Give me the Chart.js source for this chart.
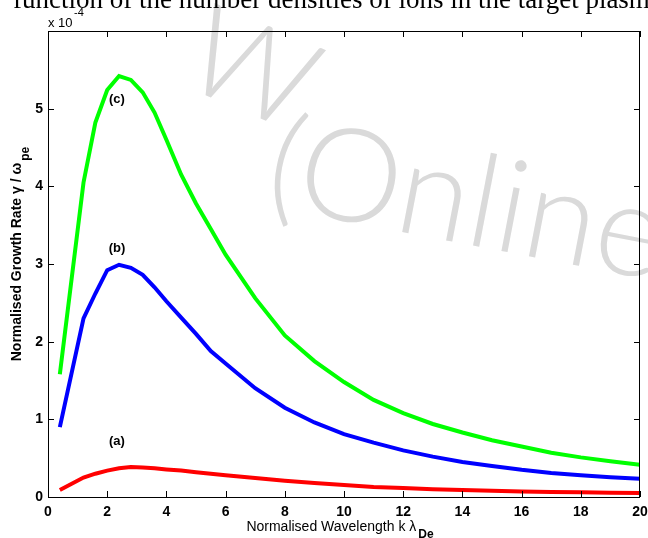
<!DOCTYPE html>
<html>
<head>
<meta charset="utf-8">
<script src="https://cdn.jsdelivr.net/npm/chart.js@4.4.1/dist/chart.umd.min.js"></script>
<style>
  body { margin: 0; background: #fff; }
  canvas { display: block; }
</style>
</head>
<body>
<canvas id="growthChart" width="648" height="538"></canvas>
<script>
// normalised wavelength k*lambda_De (shared by all three curves)
const kLambda = [0.4, 1.2, 1.6, 2.0, 2.4, 2.8, 3.2, 3.6, 4.0, 4.5, 5.0, 5.5, 6, 7, 8, 9, 10, 11, 12, 13, 14, 15, 16, 17, 18, 19, 20];
// growth rate gamma/omega_pe in units of 1e-4
const curveA = [0.09, 0.25, 0.30, 0.34, 0.37, 0.385, 0.38, 0.37, 0.355, 0.34, 0.32, 0.30, 0.28, 0.245, 0.21, 0.18, 0.155, 0.13, 0.115, 0.10, 0.09, 0.08, 0.07, 0.065, 0.06, 0.055, 0.05];
const curveB = [0.90, 2.30, 2.62, 2.92, 2.99, 2.95, 2.86, 2.70, 2.52, 2.31, 2.10, 1.88, 1.72, 1.40, 1.15, 0.96, 0.81, 0.70, 0.60, 0.52, 0.45, 0.40, 0.35, 0.31, 0.28, 0.255, 0.235];
const curveC = [1.58, 4.05, 4.82, 5.24, 5.42, 5.37, 5.21, 4.95, 4.60, 4.15, 3.78, 3.45, 3.12, 2.56, 2.08, 1.75, 1.48, 1.25, 1.08, 0.94, 0.83, 0.73, 0.65, 0.57, 0.51, 0.46, 0.415];
const curveLabels = ['(a)', '(b)', '(c)'];
const labelAt = [[2.33, 0.71], [2.33, 3.2], [2.33, 5.12]];
const xTicks = [0, 2, 4, 6, 8, 10, 12, 14, 16, 18, 20];
const yTicks = [0, 1, 2, 3, 4, 5];

const SANS = '"Liberation Sans", Arial, Helvetica, sans-serif';

function toPoints(ys) {
    return kLambda.map((x, i) => ({ x: x, y: ys[i] }));
}

// frame, inward ticks, axis titles, annotations, exponent, page text
const decorPlugin = {
    id: 'decor',
    beforeDatasetsDraw(chart) {
        const ctx = chart.ctx;
        // faint watermark of the scanned page
        ctx.save();
        ctx.fillStyle = '#dadada';
        ctx.font = '300 125px Lato, sans-serif';
        ctx.translate(205, 95);
        ctx.rotate(0.4);
        ctx.fillText('W', -30, 0);
        ctx.restore();
        ctx.save();
        ctx.fillStyle = '#dadada';
        ctx.font = '300 130px Lato, sans-serif';
        ctx.translate(262, 205);
        ctx.rotate(0.19);
        ctx.fillText('(Online', 0, 0);
        ctx.restore();
    },
    afterDraw(chart) {
        const ctx = chart.ctx;
        const a = chart.chartArea;
        const xs = chart.scales.x, ys = chart.scales.y;
        const tl = 6;
        ctx.save();
        ctx.strokeStyle = '#000';
        ctx.lineWidth = 1;
        ctx.strokeRect(a.left + 0.5, a.top + 0.5, a.right - a.left - 1, a.bottom - a.top);
        ctx.beginPath();
        xTicks.forEach(v => {
            const px = Math.round(xs.getPixelForValue(v)) + 0.5;
            ctx.moveTo(px, a.bottom); ctx.lineTo(px, a.bottom - tl);
            ctx.moveTo(px, a.top); ctx.lineTo(px, a.top + tl);
        });
        yTicks.forEach(v => {
            const py = Math.round(ys.getPixelForValue(v)) + 0.5;
            ctx.moveTo(a.left, py); ctx.lineTo(a.left + tl, py);
            ctx.moveTo(a.right, py); ctx.lineTo(a.right - tl, py);
        });
        ctx.stroke();

        ctx.fillStyle = '#000';
        // curve labels
        ctx.font = 'bold 13px ' + SANS;
        ctx.textAlign = 'center';
        ctx.textBaseline = 'middle';
        curveLabels.forEach((t, i) => {
            ctx.fillText(t, xs.getPixelForValue(labelAt[i][0]), ys.getPixelForValue(labelAt[i][1]));
        });

        // exponent
        ctx.textAlign = 'left';
        ctx.textBaseline = 'alphabetic';
        ctx.font = '13px ' + SANS;
        ctx.fillText('x 10', a.left, a.top - 4);
        ctx.font = '11px ' + SANS;
        ctx.fillText('-4', a.left + 26, a.top - 15);

        // x title
        ctx.font = '14px ' + SANS;
        const xt = 'Normalised Wavelength k \u03bb';
        const w1 = ctx.measureText(xt).width;
        ctx.font = 'bold 12px ' + SANS;
        const w2 = ctx.measureText('De').width;
        const x0 = 340 - (w1 + w2 + 2) / 2;
        ctx.font = '14px ' + SANS;
        ctx.fillText(xt, x0, 531);
        ctx.font = 'bold 12px ' + SANS;
        ctx.fillText('De', x0 + w1 + 2, 538);

        // y title
        ctx.save();
        ctx.translate(21, 0);
        ctx.rotate(-Math.PI / 2);
        ctx.font = 'bold 14px ' + SANS;
        const yt = 'Normalised Growth Rate \u03b3 / \u03c9';
        const h1 = ctx.measureText(yt).width;
        ctx.font = 'bold 12px ' + SANS;
        const h2 = ctx.measureText('pe').width;
        const c = 254;
        const y0 = c - (h1 + h2 + 2) / 2;
        ctx.font = 'bold 14px ' + SANS;
        ctx.fillText(yt, -(y0 + h1 + h2 + 2), 0);
        ctx.font = 'bold 12px ' + SANS;
        ctx.fillText('pe', -(y0 + h2), 8);
        ctx.restore();

        // clipped line of the page above the figure
        ctx.font = '27px "Liberation Serif", "Times New Roman", serif';
        ctx.fillText('function of the number densities of ions in the target plasma', 13, 8);
        ctx.restore();
    }
};

new Chart(document.getElementById('growthChart'), {
    type: 'line',
    data: {
        datasets: [
            { label: '(a)', data: toPoints(curveA), borderColor: '#ff0000' },
            { label: '(b)', data: toPoints(curveB), borderColor: '#0000ff' },
            { label: '(c)', data: toPoints(curveC), borderColor: '#00ff00' }
        ]
    },
    options: {
        responsive: false,
        devicePixelRatio: 1,
        animation: false,
        layout: { padding: { top: 31, right: 8, left: 0, bottom: 0 } },
        elements: {
            line: { borderWidth: 4, tension: 0, fill: false, borderCapStyle: 'butt' },
            point: { radius: 0, hoverRadius: 0 }
        },
        plugins: {
            legend: { display: false },
            tooltip: { enabled: false }
        },
        scales: {
            x: {
                type: 'linear',
                min: 0,
                max: 20,
                grid: { display: false, drawTicks: false },
                border: { display: false },
                afterBuildTicks: s => { s.ticks = xTicks.map(v => ({ value: v })); },
                afterFit: s => { s.height = 41; s.paddingLeft = 0; s.paddingRight = 0; },
                ticks: {
                    color: '#000',
                    padding: 7,
                    maxRotation: 0,
                    font: { family: SANS, size: 14, weight: 'bold' }
                }
            },
            y: {
                type: 'linear',
                min: 0,
                max: 6,
                grid: { display: false, drawTicks: false },
                border: { display: false },
                afterBuildTicks: s => { s.ticks = yTicks.map(v => ({ value: v })); },
                afterFit: s => { s.width = 48; s.paddingTop = 0; s.paddingBottom = 0; },
                ticks: {
                    color: '#000',
                    padding: 5,
                    font: { family: SANS, size: 14, weight: 'bold' }
                }
            }
        }
    },
    plugins: [decorPlugin]
});
</script>
</body>
</html>
